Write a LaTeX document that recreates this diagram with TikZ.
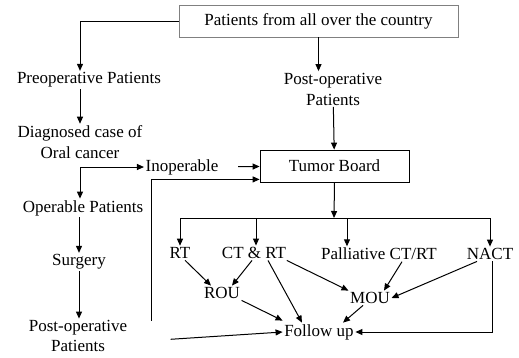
\documentclass[tikz,border=0pt]{standalone}
\usepackage{fontspec}
\setmainfont{Liberation Serif}
\usetikzlibrary{arrows.meta,positioning}

\begin{document}
\begin{tikzpicture}[x=1pt,y=-1pt,
 t/.style={align=center,inner sep=1.5pt,font=\fontsize{17}{21}\selectfont},
 box/.style={t,draw,line width=0.8pt,minimum height=32pt},
 arr/.style={-{Triangle[length=7pt,width=6pt]},line width=1pt}]
 \useasboundingbox (0,0) rectangle (519,357);
 \node[box,draw=gray,minimum width=279pt] (top) at (318.5,21) {Patients from all over the country};
 \node[t] (pre) at (89,80) {Preoperative Patients};
 \node[t] (diag) at (80,142) {Diagnosed case of\\Oral cancer};
 \node[t] (inop) at (182,167) {Inoperable};
 \node[t] (oper) at (83,208) {Operable Patients};
 \node[t] (surg) at (79,262) {Surgery};
 \node[t,font=\fontsize{17}{20}\selectfont] (postL) at (78,336) {Post-operative\\Patients};
 \node[t] (postR) at (333,89) {Post-operative\\Patients};
 \node[box,minimum width=149pt] (tb) at (334.5,166) {Tumor Board};
 \node[t] (rt) at (180,253) {RT};
 \node[t] (ctrt) at (254,253) {CT \& RT};
 \node[t] (pal) at (379,254) {Palliative CT/RT};
 \node[t] (nact) at (490,254) {NACT};
 \node[t] (rou) at (222,293) {ROU};
 \node[t] (mou) at (370,298) {MOU};
 \node[t] (fol) at (319,332) {Follow up};
 \coordinate (bus) at (334,218);

 \draw[arr] (top.west) -| ([xshift=-9pt]pre.north);
 \draw[arr] (top.south) -- (top.south |- postR.north);
 \draw[arr] (diag.north |- pre.south) -- (diag.north);
 \draw[{Triangle[length=7pt,width=6pt]}-{Triangle[length=7pt,width=6pt]},line width=1pt]
   ([xshift=-3pt]oper.north) |- (inop.west);
 \draw[arr,shorten <=18pt] (inop) -- (tb);
 \draw[arr] (postR) -- (tb);
 \draw[arr] (surg |- oper.south) -- (surg);
 \draw[arr] (surg.south) -- (surg |- postL.north);
 \draw[arr] ([xshift=23pt,yshift=-2pt]postL.north east) |- ([yshift=3pt]tb.south west);
 \draw[arr,shorten <=42pt] ([yshift=-6pt]postL.east) -- (fol.west);

 \draw[arr] (tb.south) -- (bus);
 \draw[line width=1pt] (rt.north |- bus) -- (nact.north |- bus);
 \foreach \n/\dx in {rt/0,ctrt/2,pal/-32,nact/0}
   \draw[arr] ([xshift=\dx pt]\n.north |- bus) -- ([xshift=\dx pt]\n.north);

 \draw[arr] ([xshift=5pt]rt.south) -- ([xshift=-11pt]rou.north);
 \draw[arr] ([xshift=-2pt]ctrt.south) -- ([xshift=10pt]rou.north);
 \draw[arr] (rou.south east) -- ([yshift=2pt]fol.north west);
 \draw[arr] ([xshift=14pt]ctrt.south) -- ([xshift=-17pt]fol.north);
 \draw[arr] ([xshift=-1pt]ctrt.south east) -- (mou.north west);
 \draw[arr] ([xshift=23pt]pal.south) -- ([xshift=14pt]mou.north);
 \draw[arr] ([xshift=-13pt]nact.south) -- (mou.east);
 \draw[arr] ([xshift=-7pt]mou.south) -- ([xshift=24pt]fol.north);
 \draw[arr] ([xshift=2pt]nact.south) |- (fol.east);
\end{tikzpicture}
\end{document}
